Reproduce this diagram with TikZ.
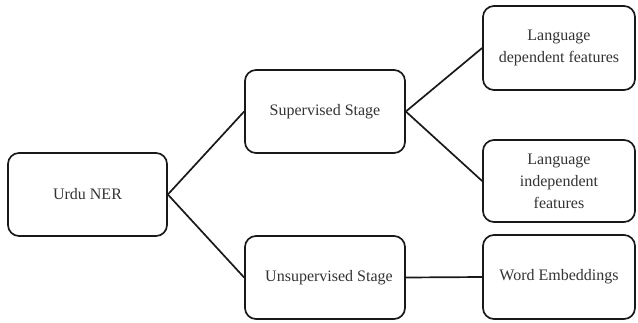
\documentclass[tikz,border=0pt]{standalone}
\usepackage{fontspec}
\setmainfont{Liberation Serif}
\begin{document}
\begin{tikzpicture}[x=1pt,y=-1pt,
  box/.style={draw=black!90, line width=1.7pt, rounded corners=11pt, align=center,
    inner sep=0pt, font=\fontsize{16}{22}\selectfont, text=black!80},
  link/.style={draw=black!90, line width=1.7pt}]
\useasboundingbox (0,0) rectangle (638,322);
\node[box, minimum width=159pt, minimum height=83pt] (urdu) at (87.5,194.5) {Urdu NER};
\node[box, minimum width=160pt, minimum height=83pt] (sup) at (325,111.5) {Supervised Stage};
\node[box, minimum width=160pt, minimum height=83pt] (unsup) at (325,277.5) {\hspace*{8pt}Unsupervised Stage};
\node[box, minimum width=152pt, minimum height=84pt] (dep) at (559,48) {Language\\dependent features};
\node[box, minimum width=152pt, minimum height=82pt] (indep) at (559,181) {Language\\independent\\features};
\node[box, minimum width=152pt, minimum height=84pt] (word) at (559,277) {Word Embeddings};
\draw[link] (urdu.east) -- (sup.west);
\draw[link] (urdu.east) -- (unsup.west);
\draw[link] (sup.east) -- (dep.west);
\draw[link] (sup.east) -- (indep.west);
\draw[link] (unsup.east) -- (word.west);
\end{tikzpicture}
\end{document}
